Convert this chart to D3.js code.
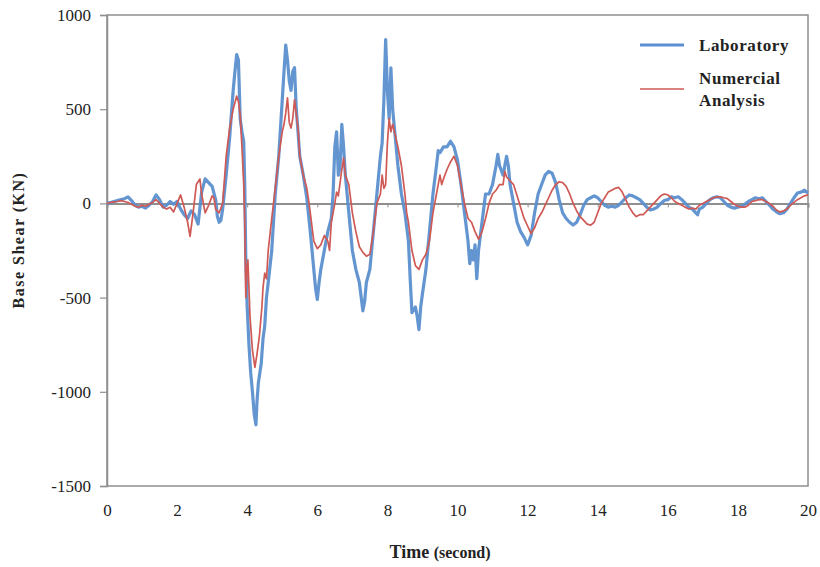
<!DOCTYPE html>
<html>
<head>
<meta charset="utf-8">
<script src="https://cdn.jsdelivr.net/npm/d3@7"></script>
<style>
  html, body { margin: 0; padding: 0; background: #fff; }
  svg { display: block; }
  text { font-family: "Liberation Serif", "DejaVu Serif", serif; fill: #222; }
</style>
</head>
<body>
<svg id="chart" width="820" height="567"></svg>
<script>
// ---- Data ----
const xTicks = [0, 2, 4, 6, 8, 10, 12, 14, 16, 18, 20];
const yTicks = [1000, 500, 0, -500, -1000, -1500];
const seriesNames = ["Laboratory", "Numercial Analysis"];

const labTime = [0,0.1,0.2,0.3,0.4,0.5,0.6,0.7,0.8,0.9,1.0,1.1,1.2,1.3,1.4,1.5,1.6,1.7,1.8,1.9,2.0,2.1,2.2,2.3,2.4,2.5,2.6,2.7,2.8,2.9,3.0,3.1,3.15,3.2,3.25,3.3,3.4,3.5,3.6,3.65,3.7,3.75,3.8,3.85,3.9,3.93,3.96,4.0,4.05,4.1,4.15,4.2,4.25,4.28,4.32,4.4,4.45,4.5,4.55,4.6,4.7,4.75,4.8,4.85,4.9,4.95,5.0,5.05,5.1,5.15,5.2,5.25,5.3,5.35,5.4,5.45,5.5,5.6,5.7,5.8,5.85,5.9,5.95,6.0,6.05,6.1,6.2,6.3,6.4,6.45,6.5,6.55,6.6,6.65,6.7,6.75,6.8,6.9,7.0,7.1,7.2,7.3,7.35,7.4,7.5,7.6,7.7,7.8,7.85,7.9,7.95,8.0,8.05,8.1,8.15,8.2,8.3,8.4,8.5,8.6,8.65,8.7,8.8,8.85,8.9,8.95,9.0,9.1,9.2,9.3,9.4,9.45,9.5,9.6,9.7,9.8,9.9,10.0,10.1,10.2,10.3,10.35,10.4,10.45,10.5,10.55,10.6,10.7,10.8,10.9,11.0,11.1,11.15,11.2,11.3,11.4,11.45,11.5,11.6,11.7,11.8,11.9,12.0,12.1,12.2,12.3,12.4,12.5,12.6,12.7,12.8,12.9,13.0,13.1,13.2,13.3,13.4,13.5,13.6,13.7,13.8,13.9,14.0,14.1,14.2,14.3,14.4,14.5,14.6,14.7,14.8,14.9,15.0,15.1,15.2,15.3,15.4,15.5,15.6,15.7,15.8,15.9,16.0,16.1,16.2,16.3,16.4,16.5,16.6,16.7,16.8,16.85,16.9,17.0,17.1,17.2,17.3,17.4,17.5,17.6,17.7,17.8,17.9,18.0,18.1,18.2,18.3,18.4,18.5,18.6,18.7,18.8,18.9,19.0,19.1,19.2,19.3,19.4,19.5,19.6,19.7,19.8,19.9,20.0];
const labShear = [0,5,10,15,20,25,35,15,-10,-20,-15,-25,-10,10,45,20,-20,-10,10,-5,10,-30,-60,-80,-40,-60,-110,60,130,110,90,20,-70,-100,-90,-30,150,350,600,700,790,760,450,380,330,100,-300,-550,-750,-900,-1000,-1120,-1175,-1050,-950,-850,-720,-650,-500,-420,-250,-100,50,150,250,400,550,700,840,760,650,600,700,720,500,380,250,150,30,-150,-250,-350,-450,-510,-420,-350,-250,-150,-80,50,300,380,150,200,420,300,150,-50,-250,-350,-420,-570,-520,-420,-350,-150,50,250,320,550,870,600,450,720,500,400,200,50,-50,-200,-400,-580,-550,-600,-670,-550,-480,-350,-150,50,200,280,270,300,300,330,300,230,100,-50,-200,-320,-250,-300,-220,-400,-250,-100,50,50,100,200,260,200,150,250,200,100,0,-100,-150,-180,-220,-170,-50,50,100,150,170,160,110,20,-50,-80,-100,-115,-100,-60,-10,20,30,40,30,10,-10,-20,-15,-20,-10,10,30,45,40,30,20,0,-20,-35,-30,-20,0,15,20,35,30,35,20,0,-20,-30,-50,-60,-30,-20,0,20,30,35,30,10,-10,-20,-25,-20,-15,-5,10,20,30,25,30,10,-10,-30,-45,-55,-50,-30,0,30,55,60,70,55];

const numTime = [0,0.1,0.2,0.3,0.4,0.5,0.6,0.7,0.8,0.9,1.0,1.1,1.2,1.3,1.4,1.5,1.6,1.7,1.8,1.9,2.0,2.1,2.2,2.3,2.37,2.45,2.55,2.65,2.7,2.8,2.9,3.0,3.05,3.1,3.2,3.3,3.4,3.5,3.6,3.7,3.75,3.8,3.85,3.9,3.93,3.96,3.99,4.02,4.08,4.15,4.22,4.28,4.35,4.42,4.45,4.5,4.55,4.6,4.7,4.8,4.9,5.0,5.05,5.1,5.15,5.2,5.25,5.3,5.35,5.45,5.5,5.6,5.7,5.75,5.8,5.9,6.0,6.1,6.2,6.3,6.35,6.4,6.5,6.55,6.6,6.7,6.75,6.8,6.9,7.0,7.1,7.2,7.3,7.4,7.5,7.6,7.7,7.8,7.85,7.9,7.95,8.0,8.05,8.1,8.15,8.2,8.3,8.4,8.5,8.55,8.6,8.7,8.8,8.9,9.0,9.1,9.2,9.3,9.4,9.5,9.55,9.6,9.7,9.8,9.9,10.0,10.1,10.2,10.3,10.4,10.5,10.6,10.7,10.8,10.9,11.0,11.1,11.2,11.3,11.35,11.4,11.5,11.6,11.7,11.8,11.9,12.0,12.1,12.2,12.3,12.4,12.5,12.6,12.7,12.8,12.9,13.0,13.1,13.2,13.3,13.4,13.5,13.6,13.7,13.8,13.9,14.0,14.1,14.2,14.3,14.4,14.5,14.6,14.7,14.8,14.9,15.0,15.1,15.2,15.3,15.4,15.5,15.6,15.7,15.8,15.9,16.0,16.1,16.2,16.3,16.4,16.5,16.6,16.7,16.8,16.9,17.0,17.1,17.2,17.3,17.4,17.5,17.6,17.7,17.8,17.9,18.0,18.1,18.2,18.3,18.4,18.5,18.6,18.7,18.8,18.9,19.0,19.1,19.2,19.3,19.4,19.5,19.6,19.7,19.8,19.9,20.0];
const numShear = [0,5,8,10,15,10,5,-5,-15,-20,-10,-15,-5,5,20,0,-20,-30,-20,-45,0,45,-20,-100,-175,-60,100,130,50,-50,-10,40,30,-30,-50,0,250,400,500,570,540,470,300,100,-100,-500,-350,-300,-600,-780,-870,-800,-700,-550,-450,-370,-400,-250,-80,80,250,380,420,480,560,430,400,450,550,400,250,150,80,20,-50,-200,-240,-220,-170,-200,-250,-100,0,60,40,180,240,150,100,-50,-150,-230,-260,-280,-270,-150,0,50,150,80,100,320,450,380,420,380,300,200,50,-50,-100,-250,-330,-350,-300,-270,-200,-50,50,150,100,130,180,220,250,200,100,0,-80,-100,-150,-190,-150,-80,0,50,70,100,100,170,140,120,100,40,-20,-80,-120,-160,-130,-80,-50,-10,30,70,100,115,110,90,50,0,-40,-70,-90,-110,-115,-100,-50,0,30,60,70,80,85,60,20,-20,-50,-70,-60,-60,-40,-20,0,20,40,50,45,30,10,0,-10,-20,-30,-25,-30,-10,0,10,20,30,35,35,30,25,10,-5,-15,-20,-20,-10,10,15,20,20,10,0,-15,-35,-45,-40,-30,-10,5,20,30,40,45];

// ---- Layout ----
const svg = d3.select("#chart");
const pLeft = 107, pRight = 808, pTop = 15, pBottom = 486;
const x = d3.scaleLinear().domain([0, 20]).range([pLeft, pRight]);
const y = d3.scaleLinear().domain([-1500, 1000]).range([pBottom, pTop]);

const gray = "#8f8f8f";
const tickFmt = d => String(d);   // plain hyphen minus, as in the reference

// plot border
svg.append("rect")
  .attr("x", pLeft).attr("y", pTop)
  .attr("width", pRight - pLeft).attr("height", pBottom - pTop)
  .attr("fill", "none").attr("stroke", gray).attr("stroke-width", 1.5);

// Y axis with outward ticks
const yAxis = svg.append("g")
  .attr("transform", `translate(${pLeft},0)`)
  .call(d3.axisLeft(y).tickValues(yTicks).tickSize(7).tickPadding(9).tickFormat(tickFmt));
yAxis.select(".domain").attr("stroke", gray).attr("stroke-width", 1.5);
yAxis.selectAll(".tick line").attr("stroke", gray).attr("stroke-width", 1.2);
yAxis.selectAll(".tick text")
  .style("font-family", "'Liberation Serif', serif").style("font-size", "17px").attr("fill", "#222");

// X labels at bottom
const xAxis = svg.append("g")
  .attr("transform", `translate(0,${pBottom})`)
  .call(d3.axisBottom(x).tickValues(xTicks).tickSize(0).tickPadding(18).tickFormat(tickFmt));
xAxis.select(".domain").remove();
xAxis.selectAll(".tick text")
  .style("font-family", "'Liberation Serif', serif").style("font-size", "17px").attr("fill", "#222");

// zero line with small downward ticks
const zeroAxis = svg.append("g")
  .attr("transform", `translate(0,${y(0)})`)
  .call(d3.axisBottom(x).tickValues(xTicks).tickSize(4).tickFormat(""));
zeroAxis.select(".domain").attr("stroke", gray).attr("stroke-width", 2);
zeroAxis.selectAll(".tick line").attr("stroke", gray).attr("stroke-width", 1);

// series
const line = d3.line().x(d => x(d[0])).y(d => y(d[1])).curve(d3.curveLinear);
const labData = labTime.map((t, i) => [t, labShear[i]]);
const numData = numTime.map((t, i) => [t, numShear[i]]);

svg.append("path").datum(labData)
  .attr("d", line).attr("fill", "none")
  .attr("stroke", "#5b8fcf").attr("stroke-width", 3.2).attr("stroke-linejoin", "round").attr("opacity", 0.95);
svg.append("path").datum(numData)
  .attr("d", line).attr("fill", "none")
  .attr("stroke", "#cf5a55").attr("stroke-width", 1.7).attr("stroke-linejoin", "round");

// legend
const lg = svg.append("g");
lg.append("line").attr("x1", 640).attr("x2", 684).attr("y1", 45).attr("y2", 45)
  .attr("stroke", "#5b8fcf").attr("stroke-width", 3);
lg.append("text").attr("x", 699).attr("y", 51).text(seriesNames[0])
  .style("font-size", "17px").style("font-weight", "bold").style("letter-spacing", "0.6px");
lg.append("line").attr("x1", 640).attr("x2", 684).attr("y1", 89).attr("y2", 89)
  .attr("stroke", "#cf5a55").attr("stroke-width", 1.7);
lg.append("text").attr("x", 699).attr("y", 84).text("Numercial")
  .style("font-size", "17px").style("font-weight", "bold").style("letter-spacing", "0.6px");
lg.append("text").attr("x", 699).attr("y", 106).text("Analysis")
  .style("font-size", "17px").style("font-weight", "bold").style("letter-spacing", "0.6px");

// axis titles
const xt = svg.append("text").attr("x", 440).attr("y", 558).attr("text-anchor", "middle")
  .style("font-weight", "bold");
xt.append("tspan").text("Time ").style("font-size", "18px");
xt.append("tspan").text("(second)").style("font-size", "16px");

svg.append("text")
  .attr("transform", `translate(24,240) rotate(-90)`)
  .attr("text-anchor", "middle")
  .style("font-size", "16px").style("font-weight", "bold").style("letter-spacing", "1.5px")
  .text("Base Shear (KN)");
</script>
</body>
</html>
